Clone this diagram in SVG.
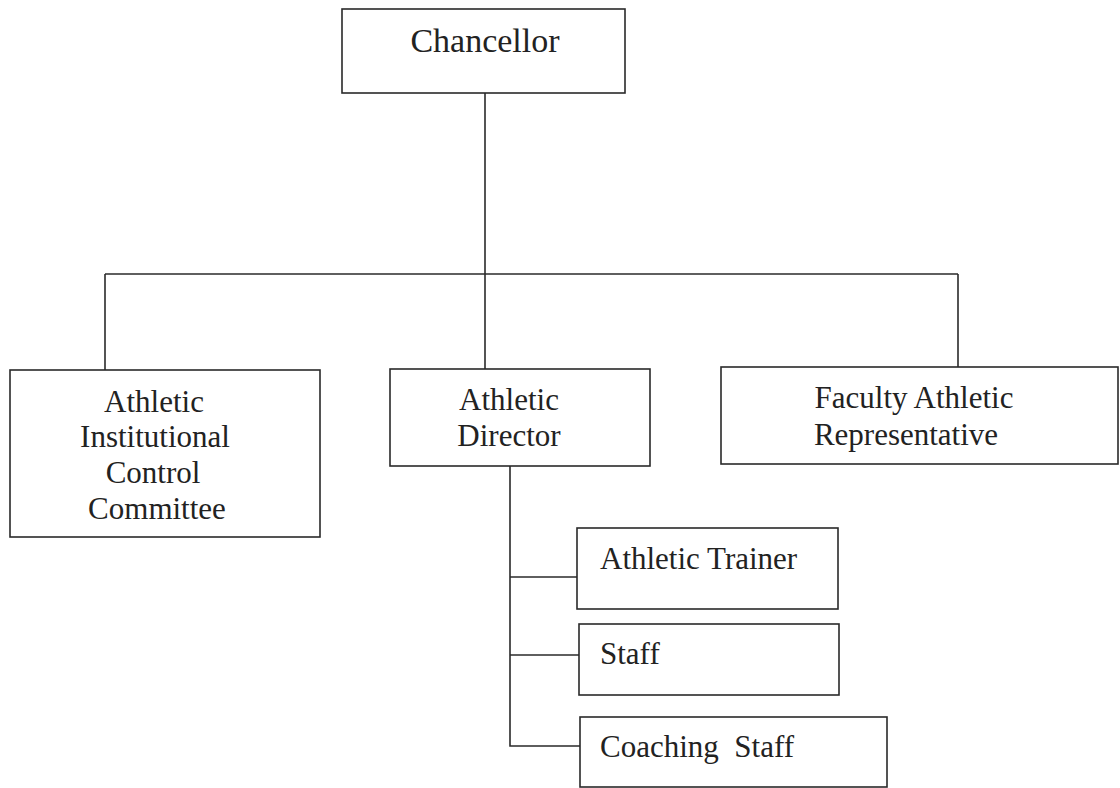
<svg xmlns="http://www.w3.org/2000/svg" width="1120" height="788" viewBox="0 0 1120 788">
<style>
.box{fill:#fff;stroke:#2a2a2a;stroke-width:1.6}
.ln{fill:none;stroke:#2a2a2a;stroke-width:1.6}
text{font-family:"Liberation Serif","Times New Roman",serif;font-size:31px;fill:#222}
.c{text-anchor:middle}
</style>
<rect width="1120" height="788" fill="#fff"/>
<g id="connectors">
<line class="ln" x1="485" y1="93" x2="485" y2="369"/>
<line class="ln" x1="105" y1="274" x2="958" y2="274"/>
<line class="ln" x1="105" y1="274" x2="105" y2="370"/>
<line class="ln" x1="958" y1="274" x2="958" y2="367"/>
<polyline class="ln" points="510,466 510,746 580,746"/>
<line class="ln" x1="510" y1="577" x2="577" y2="577"/>
<line class="ln" x1="510" y1="655" x2="579" y2="655"/>
</g>
<g id="chancellor">
<rect class="box" x="342" y="9" width="283" height="84"/>
<text class="c" x="485" y="52" style="font-size:34px">Chancellor</text>
</g>
<g id="aicc">
<rect class="box" x="10" y="370" width="310" height="167"/>
<text class="c" x="154" y="412">Athletic</text>
<text class="c" x="155" y="447">Institutional</text>
<text class="c" x="153" y="483">Control</text>
<text class="c" x="157" y="519">Committee</text>
</g>
<g id="athletic-director">
<rect class="box" x="390" y="369" width="260" height="97"/>
<text class="c" x="509" y="410">Athletic</text>
<text class="c" x="509" y="446">Director</text>
</g>
<g id="far">
<rect class="box" x="721" y="367" width="397" height="97"/>
<text class="c" x="914" y="408">Faculty Athletic</text>
<text class="c" x="906" y="445">Representative</text>
</g>
<g id="athletic-trainer">
<rect class="box" x="577" y="528" width="261" height="81"/>
<text x="600" y="569">Athletic Trainer</text>
</g>
<g id="staff">
<rect class="box" x="579" y="624" width="260" height="71"/>
<text x="600" y="664">Staff</text>
</g>
<g id="coaching-staff">
<rect class="box" x="580" y="717" width="307" height="70"/>
<text x="600" y="757" xml:space="preserve">Coaching  Staff</text>
</g>
</svg>
